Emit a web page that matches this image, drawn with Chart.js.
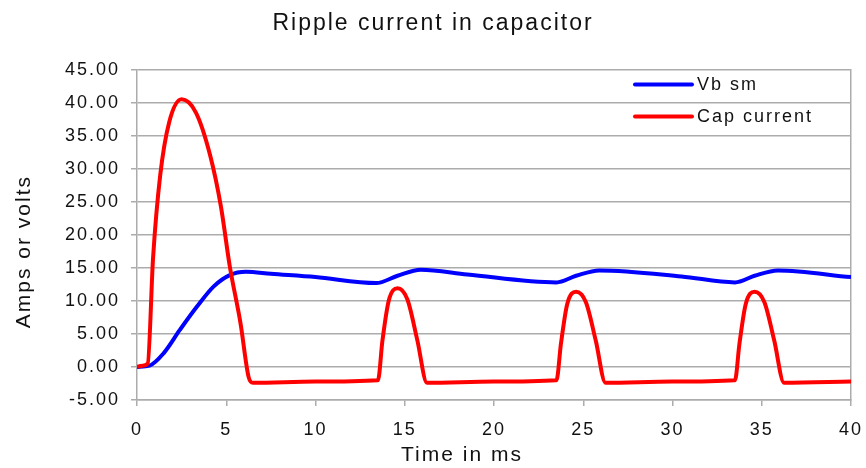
<!DOCTYPE html>
<html>
<head>
<meta charset="utf-8">
<title>Ripple current in capacitor</title>
<script src="https://cdn.jsdelivr.net/npm/chart.js@4/dist/chart.umd.min.js"></script>
<style>
  html, body { margin: 0; padding: 0; background: #fff; }
  #wrap { width: 866px; height: 468px; }
</style>
</head>
<body>
<div id="wrap"><canvas id="rippleChart" width="866" height="468"></canvas></div>
<script>
// Time points (ms) and values
const vbTime   = [0, 0.7, 1.5, 2.4, 3.35, 4.3, 5.2, 6.1, 7.5, 10, 13.4, 14.6, 15.9, 18.5, 23.5, 24.6, 25.9, 30.5, 33.5, 34.6, 35.9, 40];
const vbValues = [0, 0.2, 2.1, 5.6, 9.1, 12.2, 13.9, 14.4, 14.1, 13.6, 12.7, 13.8, 14.7, 14.0, 12.8, 13.8, 14.6, 13.7, 12.8, 13.8, 14.6, 13.6];

const capTime   = [0, 0.3, 0.6, 0.9, 1.3, 1.8, 2.5, 3.3, 4.1, 4.7, 5.2, 5.8, 6.25, 6.5, 10, 13.5,
                   13.75, 14.1, 14.6, 15.15, 15.7, 16.25, 20, 23.5,
                   23.75, 24.1, 24.6, 25.15, 25.7, 26.25, 30, 33.5,
                   33.75, 34.1, 34.6, 35.15, 35.7, 36.25, 40];
const capValues = [0, 0.2, 0.5, 16.5, 29, 37, 40.5, 38.5, 32, 24.3, 15.2, 6.6, -1.5, -2.4, -2.2, -2.0,
                   4.0, 10.0, 11.9, 10.2, 4.1, -2.4, -2.2, -2.0,
                   3.5, 9.5, 11.4, 9.8, 4.0, -2.4, -2.2, -2.0,
                   3.5, 9.5, 11.4, 9.8, 4.0, -2.4, -2.2];

const seriesNames = ['Vb sm', 'Cap current'];
const seriesColors = ['#0000ff', '#ff0000'];

const chartTitle = 'Ripple current in capacitor';
const xTitle = 'Time in ms';
const yTitle = 'Amps or volts';

const FONT = '"Liberation Sans", Arial, sans-serif';
const GRID = '#acacac';
const TEXT = '#111111';

document.addEventListener('DOMContentLoaded', () => {
    const toPoints = (xs, ys) => xs.map((x, i) => ({ x, y: ys[i] }));

    // Excel-like look: letter spaced text everywhere
    const spacing = {
        id: 'spacing',
        beforeDraw(chart) { chart.ctx.letterSpacing = '2px'; }
    };

    // Legend inside the plot (top right) plus the two axis titles
    const extras = {
        id: 'extras',
        afterDraw(chart) {
            const { ctx, chartArea } = chart;
            ctx.save();
            ctx.letterSpacing = '2px';
            ctx.fillStyle = TEXT;
            ctx.textBaseline = 'middle';

            // legend
            ctx.font = '18px ' + FONT;
            ctx.textAlign = 'left';
            seriesNames.forEach((name, i) => {
                const y = chartArea.top + 15 + i * 32;
                const x0 = chartArea.right - 216;
                ctx.strokeStyle = seriesColors[i];
                ctx.lineWidth = 4;
                ctx.lineCap = 'round';
                ctx.beginPath();
                ctx.moveTo(x0, y);
                ctx.lineTo(x0 + 57, y);
                ctx.stroke();
                ctx.fillText(name, x0 + 62, y);
            });

            // axis titles
            ctx.font = '21px ' + FONT;
            ctx.textAlign = 'center';
            ctx.fillText(xTitle, chartArea.left + 325, chartArea.bottom + 55);
            ctx.translate(24, chartArea.top + 182);
            ctx.rotate(-Math.PI / 2);
            ctx.fillText(yTitle, 0, 0);
            ctx.restore();
        }
    };

    new Chart(document.getElementById('rippleChart'), {
        type: 'line',
        data: {
            datasets: [{
                label: seriesNames[0],
                data: toPoints(vbTime, vbValues),
                borderColor: seriesColors[0],
                borderWidth: 4,
                pointRadius: 0,
                cubicInterpolationMode: 'monotone',
                order: 2
            }, {
                label: seriesNames[1],
                data: toPoints(capTime, capValues),
                borderColor: seriesColors[1],
                borderWidth: 4,
                pointRadius: 0,
                cubicInterpolationMode: 'monotone',
                order: 1
            }]
        },
        options: {
            responsive: false,
            animation: false,
            layout: { padding: 0 },
            plugins: {
                legend: { display: false },
                tooltip: { enabled: false },
                title: {
                    display: true,
                    text: chartTitle,
                    color: TEXT,
                    font: { family: FONT, size: 23, weight: 'normal' },
                    padding: { top: 10, bottom: 32 }
                }
            },
            scales: {
                x: {
                    type: 'linear',
                    min: 0,
                    max: 40,
                    ticks: { stepSize: 5, color: TEXT, padding: 13, font: { family: FONT, size: 18 } },
                    grid: { drawOnChartArea: false, tickColor: GRID, tickLength: 6, lineWidth: 1.5 },
                    border: { display: true, color: GRID, width: 1.5 },
                    afterFit(scale) {
                        scale.height = 68;
                        scale.paddingLeft = 0;
                        scale.paddingRight = 0;
                    }
                },
                y: {
                    min: -5,
                    max: 45,
                    ticks: {
                        stepSize: 5,
                        color: TEXT,
                        padding: 11,
                        font: { family: FONT, size: 18 },
                        callback: (v) => v.toFixed(2)
                    },
                    grid: { color: GRID, tickColor: GRID, tickLength: 6, lineWidth: 1.5 },
                    border: { display: true, color: GRID, width: 1.5 },
                    afterFit(scale) {
                        scale.width = 137;
                        scale.paddingTop = 0;
                        scale.paddingBottom = 0;
                    }
                },
                // right edge of the plot frame
                yRight: {
                    position: 'right',
                    min: -5,
                    max: 45,
                    ticks: { display: false },
                    grid: { drawOnChartArea: false, drawTicks: false },
                    border: { display: true, color: GRID, width: 1.5 },
                    afterFit(scale) {
                        scale.width = 15;
                        scale.paddingTop = 0;
                        scale.paddingBottom = 0;
                    }
                }
            }
        },
        plugins: [spacing, extras]
    });
});
</script>
</body>
</html>
